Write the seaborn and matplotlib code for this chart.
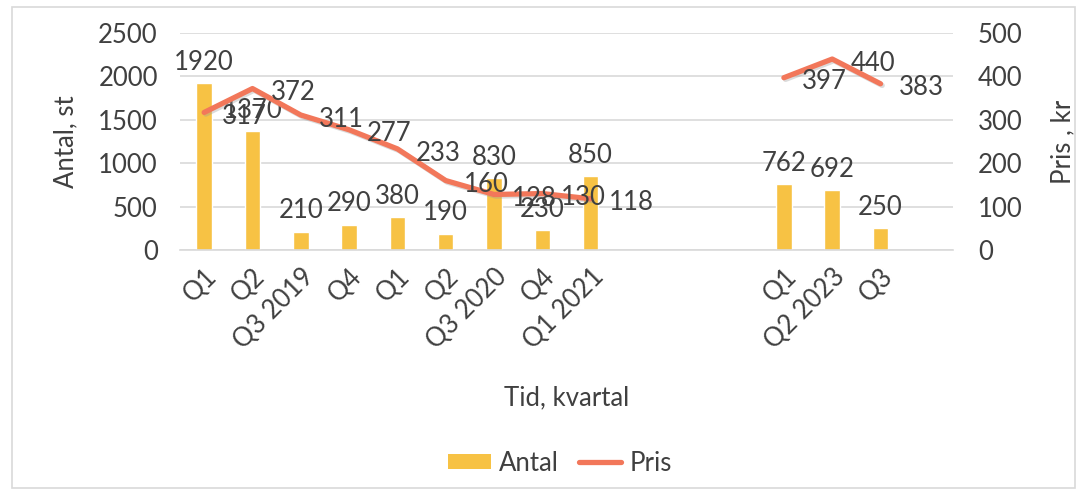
import numpy as np
import pandas as pd
import matplotlib
matplotlib.use("Agg")
import matplotlib.pyplot as plt
import matplotlib.patheffects as pe
from matplotlib.patches import Rectangle, Patch
from matplotlib.lines import Line2D
import seaborn as sns

# ---- data ----
tick_labels = ["Q1", "Q2", "Q3 2019", "Q4", "Q1", "Q2", "Q3 2020", "Q4", "Q1 2021",
               "", "", "", "Q1", "Q2 2023", "Q3", ""]
antal = [1920, 1370, 210, 290, 380, 190, 830, 230, 850,
         np.nan, np.nan, np.nan, 762, 692, 250, np.nan]
pris = [317, 372, 311, 277, 233, 160, 128, 130, 118,
        np.nan, np.nan, np.nan, 397, 440, 383, np.nan]

BAR_C = "#F7C244"
LINE_C = "#F2775A"
TXT = "#404040"
GRID = "#D9D9D9"

sns.set_theme(style="white")
plt.rcParams["font.family"] = ["Lato", "DejaVu Sans"]
plt.rcParams["text.color"] = TXT
FS = 18.5

pos = list(range(len(tick_labels)))
df = pd.DataFrame({"pos": pos, "antal": antal, "pris": pris})

fig = plt.figure(figsize=(10.81, 4.94), dpi=100)
ax = fig.add_axes([180/1081, 1-250/494, (953-180)/1081, (250-33)/494])
ax2 = ax.twinx()

sns.barplot(data=df, x="pos", y="antal", order=pos, color=BAR_C, width=0.32,
            saturation=1, ax=ax, zorder=2)

seg1 = df.iloc[0:9]
seg2 = df.iloc[12:15]
for seg in (seg1, seg2):
    sns.lineplot(data=seg, x="pos", y="pris", color=LINE_C, linewidth=3.8, ax=ax2,
                 solid_capstyle="round", solid_joinstyle="round")
for ln in ax2.lines:
    ln.set_path_effects([pe.SimpleLineShadow(offset=(1.2, -1.2), shadow_color="#999999", alpha=0.35),
                         pe.Normal()])

ax.set_xlim(-0.5, len(pos) - 0.5)
ax.set_ylim(0, 2500)
ax2.set_ylim(0, 500)
ax.set_yticks(range(0, 2501, 500))
ax2.set_yticks(range(0, 501, 100))

ax.yaxis.grid(True, color=GRID, linewidth=1.2, zorder=0)
ax.set_axisbelow(True)
for a in (ax, ax2):
    for s in a.spines.values():
        s.set_visible(False)
ax.spines["bottom"].set_visible(True)
ax.spines["bottom"].set_color(GRID)
ax.spines["bottom"].set_linewidth(1.2)

ax.set_xticks(pos)
ax.set_xticklabels(tick_labels, rotation=45, ha="right", rotation_mode="anchor",
                   fontsize=FS, color=TXT)
ax.tick_params(axis="x", length=0, pad=10)
ax.set_xticks(np.arange(-0.5, len(pos), 1.0), minor=True)
ax.tick_params(axis="x", which="minor", length=6, width=1.2, color=GRID, direction="out")
ax.tick_params(axis="y", length=0, pad=16, labelsize=FS, labelcolor=TXT)
ax2.tick_params(axis="y", length=0, pad=18, labelsize=FS, labelcolor=TXT)

ax.set_xlabel("Tid, kvartal", fontsize=FS, color=TXT, labelpad=23)
ax.set_ylabel("Antal, st", fontsize=FS, color=TXT, labelpad=14)
ax2.set_ylabel("Pris , kr", fontsize=FS, color=TXT, labelpad=20)

# data labels
for i, v in enumerate(antal):
    if not np.isnan(v):
        ax.annotate(f"{int(v)}", (i, v), xytext=(0, 6), textcoords="offset points",
                    ha="center", va="bottom", fontsize=FS, color=TXT, zorder=5)
for i, v in enumerate(pris):
    if not np.isnan(v):
        ax2.annotate(f"{int(v)}", (i, v), xytext=(13, -3), textcoords="offset points",
                     ha="left", va="center", fontsize=FS, color=TXT, zorder=5)

# legend
handles = [Patch(facecolor=BAR_C, edgecolor="none"),
           Line2D([0], [0], color=LINE_C, linewidth=3.8)]
fig.legend(handles, ["Antal", "Pris"], loc="center", bbox_to_anchor=(560/1081, 1-463/494),
           ncol=2, frameon=False, fontsize=FS, handlelength=1.65, handleheight=0.55,
           handletextpad=0.3, columnspacing=0.8)

# outer border
fig.patches.append(Rectangle((12/1081, 1-488/494), (1075-12)/1081, (488-7)/494,
                             transform=fig.transFigure, fill=False,
                             edgecolor="#D9D9D9", linewidth=1.2))

fig.savefig("out.png", dpi=100)
